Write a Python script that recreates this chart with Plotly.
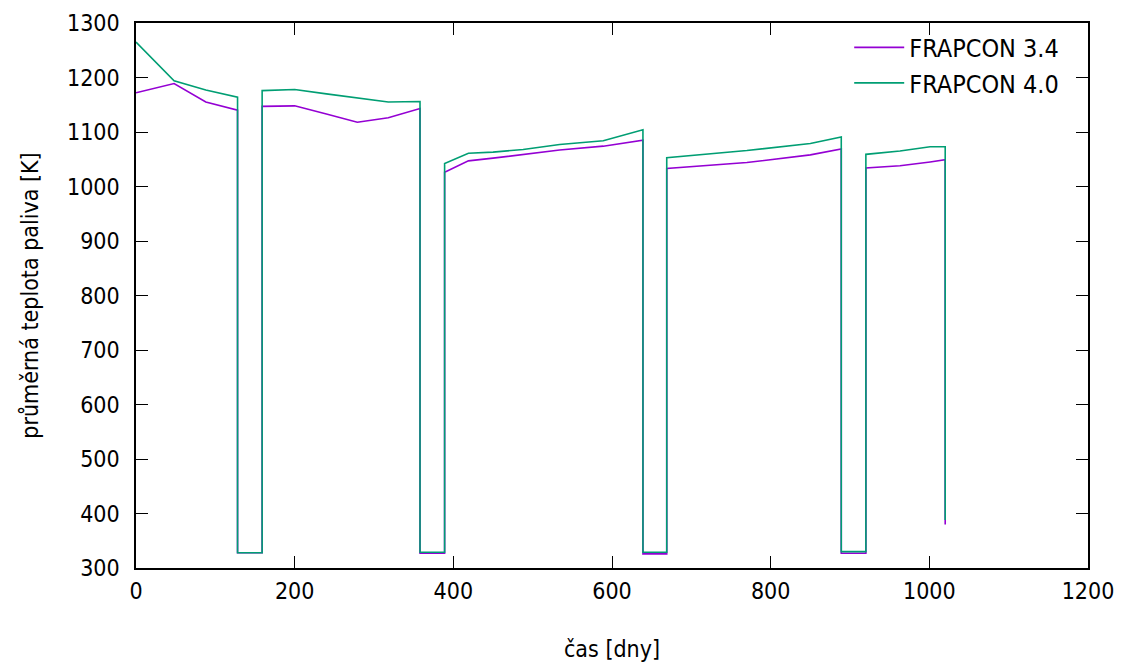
import plotly.graph_objects as go

# time [days]
cas = [0, 48, 88, 128, 128, 159, 159, 200, 240, 279, 318, 358, 358, 389, 389,
       419, 450, 488, 534, 589, 639, 639, 669, 669, 720, 770, 850, 889, 889,
       920, 920, 963, 1001, 1020, 1020]

frapcon_34 = [1172, 1189, 1155, 1140, 328, 328, 1147, 1148, 1133, 1118, 1126, 1143, 327, 327, 1026,
              1047, 1052, 1059, 1067, 1074, 1085, 326, 326, 1033, 1038, 1044, 1058, 1069, 327,
              327, 1034, 1038, 1045, 1049, 380]

frapcon_40 = [1265, 1194, 1177, 1164, 328, 328, 1176, 1178, 1170, 1162, 1155, 1156, 329, 329, 1042,
              1061, 1063, 1068, 1077, 1084, 1104, 329, 329, 1053, 1059, 1066, 1079, 1091, 330,
              330, 1059, 1065, 1073, 1073, 388]

x_ticks = [0, 200, 400, 600, 800, 1000, 1200]
y_ticks = [300, 400, 500, 600, 700, 800, 900, 1000, 1100, 1200, 1300]

FONT = "DejaVu Sans Condensed, DejaVu Sans"
FS = 23

fig = go.Figure()
fig.add_trace(go.Scatter(x=cas, y=frapcon_34, mode="lines", name="FRAPCON 3.4",
                         line=dict(color="#9400D3", width=1.6)))
fig.add_trace(go.Scatter(x=cas, y=frapcon_40, mode="lines", name="FRAPCON 4.0",
                         line=dict(color="#009E73", width=1.6)))

axis_common = dict(
    showgrid=False, zeroline=False, showline=True, linecolor="black", linewidth=1.5,
    mirror="ticks", ticks="inside", ticklen=12, tickwidth=1.2, tickcolor="black",
    tickfont=dict(family=FONT, size=FS, color="black"), automargin=False,
)

# the page body has an 8px margin, so the figure is offset by 8px
fig.update_layout(
    width=1123, height=664,
    margin=dict(l=128, r=43, t=15, b=104),
    paper_bgcolor="white", plot_bgcolor="white",
    font=dict(family=FONT, size=FS, color="black"),
    showlegend=True,
    legend=dict(x=0.975, y=0.997, xanchor="right", yanchor="top",
                bgcolor="rgba(0,0,0,0)", font=dict(family=FONT, size=25),
                itemwidth=50, tracegroupgap=0),
    xaxis=dict(range=[0, 1200], tickvals=x_ticks, ticklabelstandoff=2,
               title=dict(text="čas [dny]", standoff=38, font=dict(family=FONT, size=FS)),
               **axis_common),
    yaxis=dict(range=[300, 1300], tickvals=y_ticks, ticklabelstandoff=10,
               title=dict(text="průměrná teplota paliva [K]", standoff=22, font=dict(family=FONT, size=FS)),
               **axis_common),
)

fig.write_html("out.html")
